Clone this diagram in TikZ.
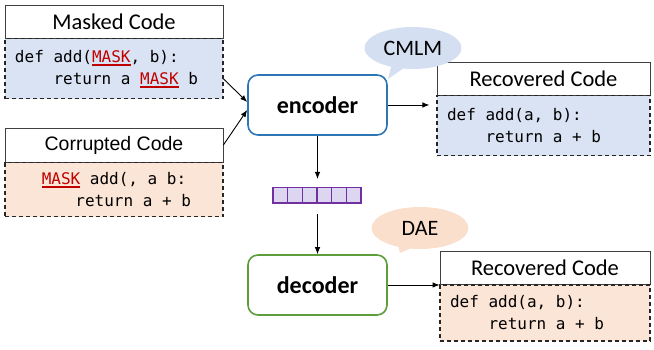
\documentclass[tikz,border=0pt]{standalone}
\usepackage{fontspec}
\setmainfont{Carlito}
\newfontfamily\codefont{DejaVu Sans Mono}
\newfontfamily\arialfont{Liberation Sans}
\usetikzlibrary{positioning,arrows.meta,shapes.callouts}

\definecolor{codeblue}{HTML}{DAE3F3}
\definecolor{codepeach}{HTML}{FBE5D6}
\definecolor{bubbleblue}{HTML}{D5DFF2}
\definecolor{bubblepeach}{HTML}{FADFCC}
\definecolor{encblue}{HTML}{2E75B6}
\definecolor{decgreen}{HTML}{5E9E3A}
\definecolor{barpurple}{HTML}{7030A0}
\definecolor{barfill}{HTML}{DDD6F1}
\definecolor{maskred}{HTML}{C00000}

\newcommand{\masktok}{\textcolor{maskred}{\setbox0\hbox{MASK}\rlap{\rule[-3pt]{\wd0}{1.6pt}}\box0}}
% one fixed-width blank in the code font
\newcommand{\sk}{\hphantom{x}}

\tikzset{
  titlebox/.style={draw=black!75,line width=0.8pt,fill=white,inner sep=0pt,
    font=\fontsize{22.5}{25}\selectfont},
  codebox/.style={draw=black!85,dashed,dash pattern=on 4pt off 3pt,line width=1.1pt,
    inner xsep=10pt,inner ysep=0pt,font=\codefont\fontsize{16}{22}\selectfont},
  netbox/.style={rounded corners=10pt,line width=1.6pt,minimum width=139pt,
    minimum height=60pt,font=\bfseries\fontsize{24}{28}\selectfont},
  cellbox/.style={draw=barpurple,fill=barfill,line width=1.5pt,inner sep=0pt,
    minimum width=14.67pt,minimum height=15.5pt},
  bubble/.style={ellipse callout,inner sep=0pt,minimum width=97pt,minimum height=42pt,
    font=\fontsize{22}{24}\selectfont},
  arrow/.style={-{Latex[length=7pt,width=5.5pt]},line width=0.9pt}
}

\begin{document}
\begin{tikzpicture}[x=1pt,y=-1pt]
  \useasboundingbox (0,0) rectangle (654,350);

  % inputs
  \node[titlebox,minimum width=218pt,minimum height=33pt] (masktitle) at (114,21.5) {Masked Code};
  \node[codebox,fill=codeblue,minimum width=218pt,minimum height=60pt,text width=198pt,align=left,
    below=0pt of masktitle] (maskbody)
    {def\sk add(\masktok,\sk b):\\\sk\sk\sk\sk return\sk a\sk\masktok\sk b};

  \node[titlebox,minimum width=218pt,minimum height=34pt,font=\arialfont\fontsize{19.5}{22}\selectfont]
    (corrtitle) at (114,145) {Corrupted Code};
  \node[codebox,fill=codepeach,minimum width=218pt,minimum height=54pt,text width=198pt,align=center,
    below=0pt of corrtitle] (corrbody)
    {\masktok\sk add(,\sk a\sk b:\\\sk\sk\sk\sk return\sk a\sk +\sk b};

  % networks
  \node[netbox,draw=encblue] (encoder) at (317.5,105) {encoder};
  \node[netbox,draw=decgreen] (decoder) at (317.5,285) {decoder};

  \foreach \i in {1,...,6}
    \node[cellbox] (cell\i) at ({273+14.67*(\i-0.5)},195.5) {};

  % outputs
  \node[titlebox,minimum width=213pt,minimum height=33pt] (rectitle) at (543.5,78.5) {Recovered Code};
  \node[codebox,fill=codeblue,minimum width=213pt,minimum height=60pt,text width=193pt,align=left,
    below=0pt of rectitle] (recbody)
    {def\sk add(a,\sk b):\\\sk\sk\sk\sk return\sk a\sk +\sk b};

  \node[titlebox,minimum width=210pt,minimum height=33pt] (dectitle) at (545,267.5) {Recovered Code};
  \node[codebox,fill=codepeach,minimum width=210pt,minimum height=56pt,text width=190pt,align=left,
    below=0pt of dectitle] (decbody)
    {def\sk add(a,\sk b):\\\sk\sk\sk\sk return\sk a\sk +\sk b};

  % callouts
  \node[bubble,fill=bubbleblue,callout absolute pointer={(388,79)}] (cmlm) at (413,48) {CMLM};
  \node[bubble,fill=bubblepeach,callout absolute pointer={(400,253)}] (dae) at (420,228) {DAE};

  % connectors
  \draw[arrow] ([yshift=-10pt]maskbody.east) -- ([yshift=3pt]encoder.west);
  \draw[arrow] (corrtitle.east) -- ([yshift=-5pt]encoder.west);
  \draw[arrow,shorten >=7pt] (encoder.east) -- (encoder.east -| recbody.west);
  \draw[arrow,shorten >=8pt] (encoder.south) -- (encoder.south |- cell3.north);
  \draw[arrow,shorten <=10pt] (encoder.south |- cell3.south) -- (decoder.north);
  \draw[arrow] (decoder.east) -- (decoder.east -| dectitle.west);

\end{tikzpicture}
\end{document}
